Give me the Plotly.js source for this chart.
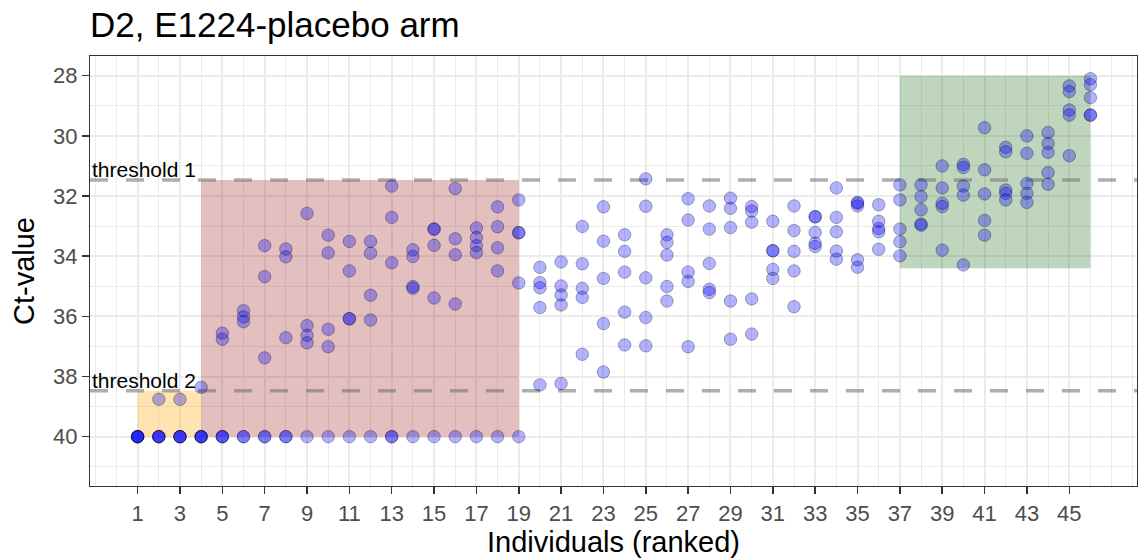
<!DOCTYPE html>
<html>
<head>
<meta charset="utf-8">
<script src="https://cdn.plot.ly/plotly-3.0.1.min.js"></script>
<style>
  html, body { margin: 0; padding: 0; background: #ffffff; }
  #chart { width: 1144px; height: 558px; }
</style>
</head>
<body>
<div id="chart"></div>
<script>
// ---- data ----
const ranks = [1,2,3,4,5,6,7,8,9,10,11,12,13,14,15,16,17,18,19,20,21,22,23,24,25,26,27,28,29,30,31,32,33,34,35,36,37,38,39,40,41,42,43,44,45,46];
const ctByRank = [
  [40,40,40,40,40],
  [38.76,40,40,40,40],
  [38.76,40,40,40,40],
  [38.36,40,40,40,40],
  [36.56,36.76,40,40,40],
  [35.81,36.02,36.18,40,40],
  [33.65,34.68,37.38,40,40],
  [33.76,34.02,36.71,40,40],
  [32.58,36.31,36.63,36.88,40],
  [33.30,33.89,36.43,37.01,40],
  [33.51,34.49,36.08,36.08,40],
  [33.51,33.90,35.30,36.12,40],
  [31.67,32.71,34.22,40,40],
  [33.79,34.01,35.01,35.07,40],
  [33.10,33.10,33.64,35.39,40],
  [31.75,33.42,33.95,35.59,40],
  [33.06,33.38,33.65,33.88,40],
  [32.36,33.02,33.72,34.49,40],
  [32.13,33.22,33.22,34.89,40],
  [34.37,34.88,35.05,35.71,38.28],
  [34.19,34.99,35.29,35.62,38.23],
  [33.01,34.25,35.07,35.37,37.26],
  [32.36,33.50,34.74,36.24,37.85],
  [33.29,33.84,34.53,35.86,36.95],
  [31.43,32.34,34.72,36.04,36.98],
  [33.29,33.54,33.96,35.01,35.49],
  [32.09,32.80,34.53,34.84,37.01],
  [32.33,33.10,34.24,35.10,35.21],
  [32.07,32.41,33.05,35.49,36.76],
  [32.35,32.50,32.87,35.42,36.59],
  [32.84,33.82,33.82,34.44,34.74],
  [32.33,33.15,33.84,34.49,35.68],
  [32.69,32.69,33.21,33.57,33.68],
  [31.73,32.71,33.19,33.83,34.10],
  [32.21,32.24,32.33,34.12,34.37],
  [32.29,32.84,33.08,33.19,33.77],
  [31.63,32.13,33.10,33.52,33.99],
  [31.63,32.02,32.46,32.93,32.97],
  [31.00,31.73,32.24,32.35,33.80],
  [30.95,31.05,31.67,31.97,34.29],
  [29.73,31.13,31.93,32.81,33.30],
  [30.38,30.53,31.80,31.91,32.13],
  [30.00,30.58,31.58,31.91,32.21],
  [29.89,30.25,30.55,31.22,31.61],
  [28.34,28.53,29.14,29.31,30.66],
  [28.10,28.30,28.73,29.31,29.31]
];
const xTickVals = [1,3,5,7,9,11,13,15,17,19,21,23,25,27,29,31,33,35,37,39,41,43,45];
const yTickVals = [28,30,32,34,36,38,40];
const thresholdNames = ["threshold 1", "threshold 2"];
const thresholdValues = [31.47, 38.47];
// regions: [x0, x1, y0, y1]
const regionOrange = [1, 4, 38.47, 40];
const regionRed = [4, 19, 31.47, 40];
const regionGreen = [37, 46, 28.0, 34.4];

// ---- build ----
const xs = [], ys = [];
ranks.forEach((r, k) => { ctByRank[k].forEach(v => { xs.push(r); ys.push(v); }); });

const xRange = [-1.25, 48.2];
const yRange = [41.64, 27.345];
const minorX = []; for (let i = -1; i <= 48; i++) minorX.push(i);
const minorY = []; for (let v = 27; v <= 42; v++) minorY.push(v);

const FONT = "Liberation Sans, Arial, Helvetica, sans-serif";

function rect(b, color) {
  return { type: 'rect', xref: 'x', yref: 'y', x0: b[0], x1: b[1], y0: b[2], y1: b[3],
           fillcolor: color, line: { width: 0 }, layer: 'between' };
}

const shapes = [
  rect(regionOrange, 'rgba(255,165,0,0.3)'),
  rect(regionRed, 'rgba(150,20,20,0.27)'),
  rect(regionGreen, 'rgba(20,100,10,0.27)')
];

const thresholdTraces = thresholdValues.map(t => ({
  type: 'scatter', mode: 'lines', x: xRange, y: [t, t],
  line: { color: 'rgba(120,120,120,0.6)', width: 3.5, dash: '18px,18px' },
  hoverinfo: 'skip', cliponaxis: true
}));

const annotations = thresholdNames.map((n, k) => ({
  text: n, xref: 'paper', yref: 'y', x: 0, y: thresholdValues[k],
  xanchor: 'left', yanchor: 'bottom', showarrow: false, xshift: 0, yshift: -3,
  font: { family: FONT, size: 21, color: '#000000' }
}));

const trace = {
  type: 'scatter', mode: 'markers', x: xs, y: ys,
  marker: { size: 12.5, color: 'rgba(0,0,255,0.3)', line: { color: 'rgba(0,0,0,0.3)', width: 1 } },
  hoverinfo: 'x+y'
};

const layout = {
  width: 1144, height: 558,
  margin: { l: 89.5, r: 7, t: 56, b: 72, pad: 0 },
  paper_bgcolor: '#ffffff', plot_bgcolor: '#ffffff',
  showlegend: false,
  title: { text: 'D2, E1224-placebo arm', x: 0, xref: 'paper', xanchor: 'left',
           y: 1 - 25 / 558, yref: 'container', yanchor: 'middle',
           font: { family: FONT, size: 35, color: '#000000' } },
  xaxis: {
    range: xRange, tickmode: 'array', tickvals: xTickVals, ticktext: xTickVals.map(String),
    showgrid: true, gridcolor: '#EBEBEB', gridwidth: 2,
    minor: { tickmode: 'array', tickvals: minorX, showgrid: true, gridcolor: '#EBEBEB', gridwidth: 1, ticklen: 0 },
    ticks: 'outside', ticklen: 7, tickwidth: 1.5, tickcolor: '#333333',
    tickfont: { family: FONT, size: 22, color: '#4D4D4D' },
    showline: true, mirror: true, linecolor: '#333333', linewidth: 1.2, zeroline: false,
    title: { text: 'Individuals (ranked)', standoff: 7, font: { family: FONT, size: 29, color: '#000000' } }
  },
  yaxis: {
    range: yRange, tickmode: 'array', tickvals: yTickVals, ticktext: yTickVals.map(String),
    showgrid: true, gridcolor: '#EBEBEB', gridwidth: 2,
    minor: { tickmode: 'array', tickvals: minorY, showgrid: true, gridcolor: '#EBEBEB', gridwidth: 1, ticklen: 0 },
    ticks: 'outside', ticklen: 7, tickwidth: 1.5, tickcolor: '#333333',
    tickfont: { family: FONT, size: 22, color: '#4D4D4D' },
    showline: true, mirror: true, linecolor: '#333333', linewidth: 1.2, zeroline: false,
    title: { text: 'Ct-value', standoff: 9, font: { family: FONT, size: 29, color: '#000000' } }
  },
  shapes: shapes,
  annotations: annotations
};

Plotly.newPlot('chart', thresholdTraces.concat([trace]), layout, { displayModeBar: false, staticPlot: true });
</script>
</body>
</html>
